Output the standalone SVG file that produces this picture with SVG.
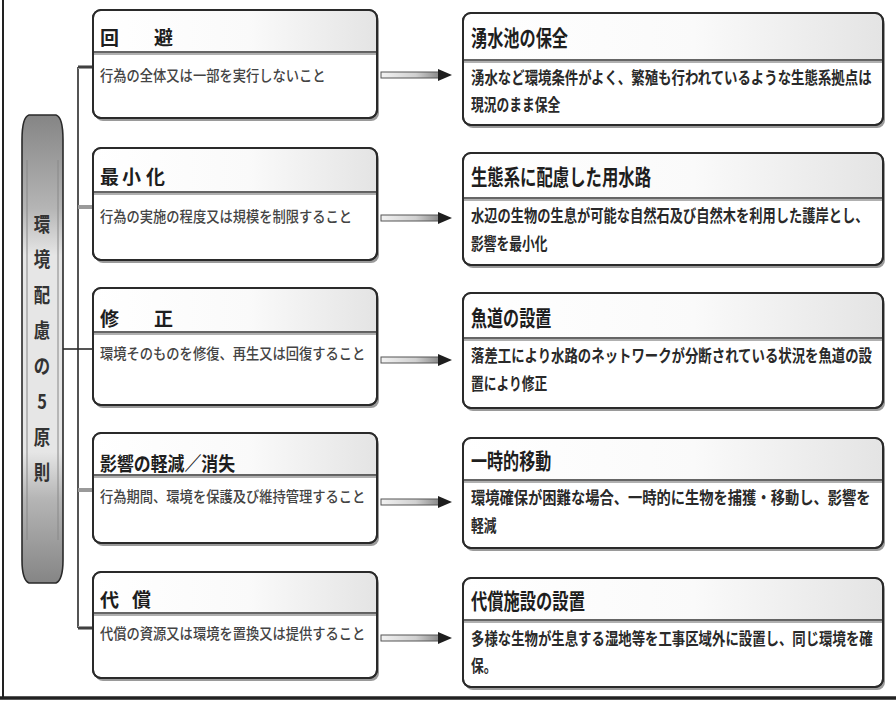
<svg xmlns="http://www.w3.org/2000/svg" width="896" height="707" viewBox="0 0 896 707">
<defs>
<linearGradient id="pillGrad" x1="0" y1="0" x2="0" y2="1">
<stop offset="0" stop-color="#858585"/>
<stop offset="0.2" stop-color="#b5b5b5"/>
<stop offset="0.3" stop-color="#e6e6e6"/>
<stop offset="0.72" stop-color="#e6e6e6"/>
<stop offset="0.82" stop-color="#b5b5b5"/>
<stop offset="1" stop-color="#858585"/>
</linearGradient>
<linearGradient id="headGrad" x1="0" y1="0" x2="1" y2="0">
<stop offset="0" stop-color="#ffffff"/>
<stop offset="0.55" stop-color="#fafafa"/>
<stop offset="1" stop-color="#e4e4e4"/>
</linearGradient>
<linearGradient id="shaftGrad" x1="0" y1="0" x2="1" y2="0">
<stop offset="0" stop-color="#f2f2f2"/>
<stop offset="0.6" stop-color="#d0d0d0"/>
<stop offset="1" stop-color="#8a8a8a"/>
</linearGradient>
<style>
.box{fill:#fff;stroke:#2a2a2a;stroke-width:2}
.shadow{fill:#9a9a9a}
.head{fill:url(#headGrad)}
.div{stroke:#333;stroke-width:1.6}
.div2{stroke:#b0b0b0;stroke-width:2}
.ttl{font-family:"Noto Sans CJK JP","Noto Sans CJK SC",sans-serif;font-weight:700;fill:#1e1e1e}
.lt{font-size:19px}
.rt{font-size:22px}
.lb{font-family:"Noto Sans CJK JP","Noto Sans CJK SC",sans-serif;font-size:15px;font-weight:500;fill:#444}
.rb{font-family:"Noto Sans CJK JP","Noto Sans CJK SC",sans-serif;font-size:17px;font-weight:700;fill:#2a2a2a}
.pilltx{font-family:"Noto Sans CJK JP","Noto Sans CJK SC",sans-serif;font-size:20px;font-weight:700;fill:#333}
.ln{stroke:#2a2a2a;stroke-width:1.6;fill:none}
.br{stroke:#9a9a9a;stroke-width:4}
.shaft{fill:url(#shaftGrad);stroke:#555;stroke-width:1}
.ahead{fill:#1e1e1e}
.frame{stroke:#222;fill:none}
</style>
</defs>

<rect width="896" height="707" fill="#ffffff"/>

<g id="frame">
<line class="frame" x1="3" y1="0" x2="3" y2="699" stroke-width="2"/>
<line class="frame" x1="0" y1="698" x2="896" y2="698" stroke-width="3.5"/>
</g>

<g id="connectors">
<line class="ln" x1="78" y1="67" x2="78" y2="628"/>
<line class="br" x1="78" y1="67" x2="93" y2="67"/>
<line class="br" x1="78" y1="207" x2="93" y2="207"/>
<line class="br" x1="78" y1="490" x2="93" y2="490"/>
<line class="br" x1="78" y1="628" x2="93" y2="628"/>
<line class="ln" x1="78" y1="67" x2="93" y2="67" stroke-width="1"/>
<line class="ln" x1="78" y1="628" x2="93" y2="628" stroke-width="1"/>
<line class="ln" x1="62" y1="349" x2="93" y2="349"/>
<g id="arrow1"><rect class="shaft" x="381" y="72" width="58" height="6"/><polygon class="ahead" points="438,69 452,75 438,81"/></g>
<g id="arrow2"><rect class="shaft" x="381" y="215" width="58" height="6"/><polygon class="ahead" points="438,212 452,218 438,224"/></g>
<g id="arrow3"><rect class="shaft" x="381" y="357" width="58" height="6"/><polygon class="ahead" points="438,354 452,360 438,366"/></g>
<g id="arrow4"><rect class="shaft" x="381" y="499" width="58" height="6"/><polygon class="ahead" points="438,496 452,502 438,508"/></g>
<g id="arrow5"><rect class="shaft" x="381" y="635" width="58" height="6"/><polygon class="ahead" points="438,632 452,638 438,644"/></g>
</g>

<g id="pill">
<path d="M29,115 L56,115 Q63,117 63,140 L63,560 Q63,580 56,583 L29,583 Q22,580 22,560 L22,140 Q22,117 29,115 Z" fill="url(#pillGrad)" stroke="#2a2a2a" stroke-width="1.6"/>
<line x1="27" y1="160" x2="27" y2="540" stroke="#888" stroke-width="1"/>
<line x1="58" y1="160" x2="58" y2="540" stroke="#888" stroke-width="1"/>
<text class="pilltx" text-anchor="middle" transform="translate(42 0) scale(0.82 1)"><tspan x="0" y="232">環</tspan><tspan x="0" y="267.5">境</tspan><tspan x="0" y="303">配</tspan><tspan x="0" y="338.5">慮</tspan><tspan x="0" y="374">の</tspan><tspan x="0" y="409.5">5</tspan><tspan x="0" y="445">原</tspan><tspan x="0" y="480.5">則</tspan></text>
</g>

<g id="left1">
<rect class="shadow" x="95" y="13" width="284" height="108" rx="8"/>
<rect class="box" x="93" y="10" width="284" height="108" rx="8"/>
<path class="head" d="M94,52 L94,18 Q94,11 101,11 L369,11 Q376,11 376,18 L376,52 Z"/>
<line class="div2" x1="94" y1="54" x2="376" y2="54"/>
<line class="div" x1="94" y1="52" x2="376" y2="52"/>
<rect x="93" y="10" width="284" height="108" rx="8" fill="none" stroke="#2a2a2a" stroke-width="2"/>
<text class="ttl lt" x="100 128 154" y="45">回　避</text>
<text class="lb" transform="translate(100 81) scale(0.885 1)">行為の全体又は一部を実行しないこと</text>
</g>

<g id="left2">
<rect class="shadow" x="95" y="151" width="284" height="112" rx="8"/>
<rect class="box" x="93" y="148" width="284" height="112" rx="8"/>
<path class="head" d="M94,192 L94,156 Q94,149 101,149 L369,149 Q376,149 376,156 L376,192 Z"/>
<line class="div2" x1="94" y1="194" x2="376" y2="194"/>
<line class="div" x1="94" y1="192" x2="376" y2="192"/>
<rect x="93" y="148" width="284" height="112" rx="8" fill="none" stroke="#2a2a2a" stroke-width="2"/>
<text class="ttl lt" x="100 122 146" y="184">最小化</text>
<text class="lb" transform="translate(100 222) scale(0.885 1)">行為の実施の程度又は規模を制限すること</text>
</g>

<g id="left3">
<rect class="shadow" x="95" y="291" width="284" height="117" rx="8"/>
<rect class="box" x="93" y="288" width="284" height="117" rx="8"/>
<path class="head" d="M94,332 L94,296 Q94,289 101,289 L369,289 Q376,289 376,296 L376,332 Z"/>
<line class="div2" x1="94" y1="334" x2="376" y2="334"/>
<line class="div" x1="94" y1="332" x2="376" y2="332"/>
<rect x="93" y="288" width="284" height="117" rx="8" fill="none" stroke="#2a2a2a" stroke-width="2"/>
<text class="ttl lt" x="100 128 154" y="326">修　正</text>
<text class="lb" transform="translate(100 359) scale(0.885 1)">環境そのものを修復、再生又は回復すること</text>
</g>

<g id="left4">
<rect class="shadow" x="95" y="436" width="284" height="110" rx="8"/>
<rect class="box" x="93" y="433" width="284" height="110" rx="8"/>
<path class="head" d="M94,475 L94,441 Q94,434 101,434 L369,434 Q376,434 376,441 L376,475 Z"/>
<line class="div2" x1="94" y1="477" x2="376" y2="477"/>
<line class="div" x1="94" y1="475" x2="376" y2="475"/>
<rect x="93" y="433" width="284" height="110" rx="8" fill="none" stroke="#2a2a2a" stroke-width="2"/>
<text class="ttl lt" transform="translate(100 471) scale(0.89 1)">影響の軽減／消失</text>
<text class="lb" transform="translate(100 502) scale(0.885 1)">行為期間、環境を保護及び維持管理すること</text>
</g>

<g id="left5">
<rect class="shadow" x="95" y="575" width="284" height="106" rx="8"/>
<rect class="box" x="93" y="572" width="284" height="106" rx="8"/>
<path class="head" d="M94,613 L94,580 Q94,573 101,573 L369,573 Q376,573 376,580 L376,613 Z"/>
<line class="div2" x1="94" y1="615" x2="376" y2="615"/>
<line class="div" x1="94" y1="613" x2="376" y2="613"/>
<rect x="93" y="572" width="284" height="106" rx="8" fill="none" stroke="#2a2a2a" stroke-width="2"/>
<text class="ttl lt" x="100 116 132" y="607">代　償</text>
<text class="lb" transform="translate(100 639) scale(0.885 1)">代償の資源又は環境を置換又は提供すること</text>
</g>

<g id="right1">
<rect class="shadow" x="465" y="16" width="420" height="112" rx="8"/>
<rect class="box" x="463" y="13" width="420" height="112" rx="8"/>
<path class="head" d="M464,60 L464,21 Q464,14 471,14 L875,14 Q882,14 882,21 L882,60 Z"/>
<line class="div2" x1="464" y1="62" x2="882" y2="62"/>
<line class="div" x1="464" y1="60" x2="882" y2="60"/>
<rect x="463" y="13" width="420" height="112" rx="8" fill="none" stroke="#2a2a2a" stroke-width="2"/>
<text class="ttl rt" transform="translate(471 46) scale(0.735 1)">湧水池の保全</text>
<text class="rb" transform="translate(471 84) scale(0.79 1)">湧水など環境条件がよく、繁殖も行われているような生態系拠点は</text>
<text class="rb" transform="translate(471 111) scale(0.75 1)">現況のまま保全</text>
</g>

<g id="right2">
<rect class="shadow" x="465" y="156" width="420" height="112" rx="8"/>
<rect class="box" x="463" y="153" width="420" height="112" rx="8"/>
<path class="head" d="M464,198 L464,161 Q464,154 471,154 L875,154 Q882,154 882,161 L882,198 Z"/>
<line class="div2" x1="464" y1="200" x2="882" y2="200"/>
<line class="div" x1="464" y1="198" x2="882" y2="198"/>
<rect x="463" y="153" width="420" height="112" rx="8" fill="none" stroke="#2a2a2a" stroke-width="2"/>
<text class="ttl rt" transform="translate(471 185) scale(0.745 1)">生態系に配慮した用水路</text>
<text class="rb" transform="translate(471 222) scale(0.78 1)">水辺の生物の生息が可能な自然石及び自然木を利用した護岸とし、</text>
<text class="rb" transform="translate(471 250) scale(0.75 1)">影響を最小化</text>
</g>

<g id="right3">
<rect class="shadow" x="465" y="296" width="420" height="115" rx="8"/>
<rect class="box" x="463" y="293" width="420" height="115" rx="8"/>
<path class="head" d="M464,338 L464,301 Q464,294 471,294 L875,294 Q882,294 882,301 L882,338 Z"/>
<line class="div2" x1="464" y1="340" x2="882" y2="340"/>
<line class="div" x1="464" y1="338" x2="882" y2="338"/>
<rect x="463" y="293" width="420" height="115" rx="8" fill="none" stroke="#2a2a2a" stroke-width="2"/>
<text class="ttl rt" transform="translate(471 326) scale(0.73 1)">魚道の設置</text>
<text class="rb" transform="translate(471 362) scale(0.788 1)">落差工により水路のネットワークが分断されている状況を魚道の設</text>
<text class="rb" transform="translate(471 390) scale(0.75 1)">置により修正</text>
</g>

<g id="right4">
<rect class="shadow" x="465" y="441" width="420" height="110" rx="8"/>
<rect class="box" x="463" y="438" width="420" height="110" rx="8"/>
<path class="head" d="M464,480 L464,446 Q464,439 471,439 L875,439 Q882,439 882,446 L882,480 Z"/>
<line class="div2" x1="464" y1="482" x2="882" y2="482"/>
<line class="div" x1="464" y1="480" x2="882" y2="480"/>
<rect x="463" y="438" width="420" height="110" rx="8" fill="none" stroke="#2a2a2a" stroke-width="2"/>
<text class="ttl rt" transform="translate(471 469) scale(0.73 1)">一時的移動</text>
<text class="rb" transform="translate(471 504) scale(0.84 1)">環境確保が困難な場合、一時的に生物を捕獲・移動し、影響を</text>
<text class="rb" transform="translate(471 532) scale(0.75 1)">軽減</text>
</g>

<g id="right5">
<rect class="shadow" x="465" y="581" width="420" height="109" rx="8"/>
<rect class="box" x="463" y="578" width="420" height="109" rx="8"/>
<path class="head" d="M464,620 L464,586 Q464,579 471,579 L875,579 Q882,579 882,586 L882,620 Z"/>
<line class="div2" x1="464" y1="622" x2="882" y2="622"/>
<line class="div" x1="464" y1="620" x2="882" y2="620"/>
<rect x="463" y="578" width="420" height="109" rx="8" fill="none" stroke="#2a2a2a" stroke-width="2"/>
<text class="ttl rt" transform="translate(471 609) scale(0.74 1)">代償施設の設置</text>
<text class="rb" transform="translate(471 645) scale(0.788 1)">多様な生物が生息する湿地等を工事区域外に設置し、同じ環境を確</text>
<text class="rb" transform="translate(471 672) scale(0.75 1)">保。</text>
</g>
</svg>
